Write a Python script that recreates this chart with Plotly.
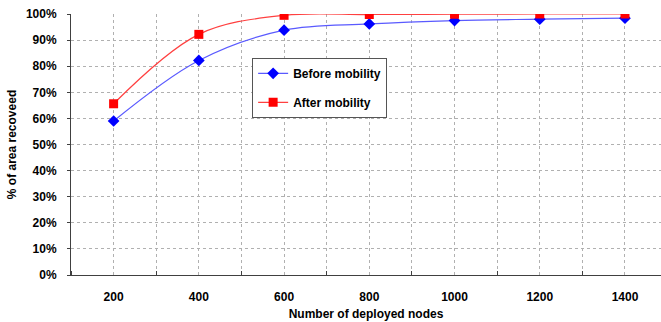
import plotly.graph_objects as go

nodes = [200, 400, 600, 800, 1000, 1200, 1400]
before_mobility = [0.59, 0.822, 0.938, 0.962, 0.975, 0.980, 0.984]
after_mobility = [0.656, 0.922, 0.995, 0.998, 0.999, 1.0, 1.0]
y_ticks = [i / 10 for i in range(11)]

FONT = "Liberation Sans, Arial, sans-serif"

fig = go.Figure()
fig.add_trace(go.Scatter(
    x=nodes, y=before_mobility, name="Before mobility", mode="lines+markers",
    line=dict(color="#5a5aff", width=1.2, shape="spline", smoothing=1),
    marker=dict(symbol="diamond", size=9, color="#0000ff"),
    legendgroup="a",
))
fig.add_trace(go.Scatter(
    x=nodes, y=after_mobility, name="After mobility", mode="lines+markers",
    line=dict(color="#ff4040", width=1.2, shape="spline", smoothing=1),
    marker=dict(symbol="square", size=9, color="#ff0000"),
    legendgroup="b",
))

fig.update_layout(
    width=661, height=322,
    margin=dict(l=71, r=0, t=14, b=47),
    paper_bgcolor="white", plot_bgcolor="white",
    font=dict(family=FONT, size=12, color="black", weight="bold"),
    showlegend=True,
    legend=dict(
        x=0.307, y=0.832, xanchor="left", yanchor="top",
        bgcolor="white", bordercolor="#555555", borderwidth=1,
        font=dict(family=FONT, size=12, weight="bold"),
        tracegroupgap=10, itemwidth=30,
    ),
    xaxis=dict(
        range=[100, 1484.5],
        tickvals=nodes, ticktext=[str(n) for n in nodes],
        showgrid=True, gridcolor="#b0b0b0", griddash="3px,3px", gridwidth=1,
        ticks="", showline=True, linecolor="#404040", linewidth=1,
        zeroline=False, ticklabelstandoff=11,
        minor=dict(tick0=100, dtick=200, showgrid=True, gridcolor="#b0b0b0",
                   griddash="3px,3px", ticks="inside", ticklen=4, tickcolor="#404040"),
        title=dict(text="Number of deployed nodes", standoff=6,
                   font=dict(family=FONT, size=12, weight="bold")),
        tickfont=dict(family=FONT, size=12, weight="bold"),
    ),
    yaxis=dict(
        range=[0, 1.0], tickvals=y_ticks, tickformat=".0%",
        showgrid=True, gridcolor="#b0b0b0", griddash="3px,3px", gridwidth=1,
        ticks="outside", ticklen=3, tickcolor="#404040",
        showline=True, linecolor="#404040", linewidth=1, zeroline=False,
        ticklabelstandoff=8,
        title=dict(text="% of area recoveed", standoff=6,
                   font=dict(family=FONT, size=12, weight="bold")),
        tickfont=dict(family=FONT, size=12, weight="bold"),
    ),
)

fig.write_html("out.html")
